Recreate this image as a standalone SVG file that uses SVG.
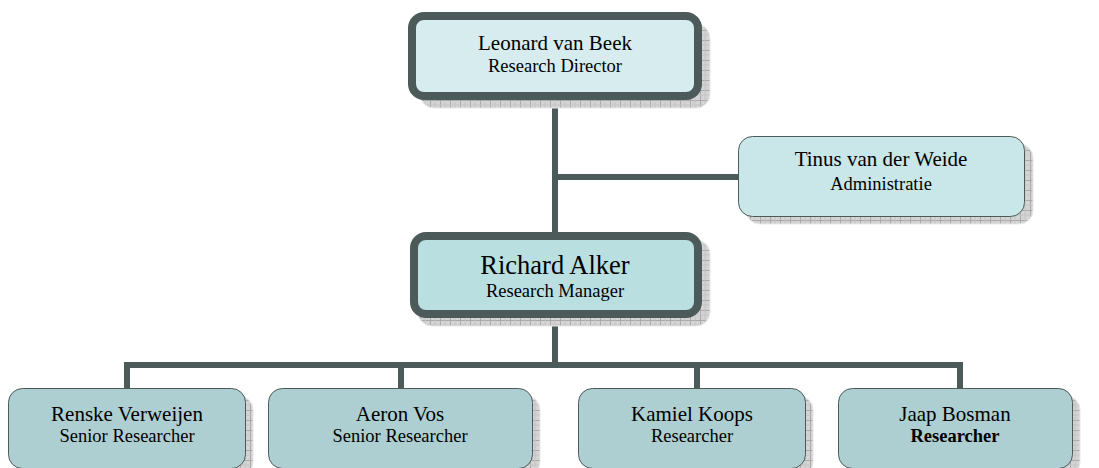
<svg xmlns="http://www.w3.org/2000/svg" width="1099" height="468" viewBox="0 0 1099 468">
<defs>
<pattern id="grid" width="10" height="10" patternUnits="userSpaceOnUse">
<rect width="10" height="10" fill="#d4d4d4"/>
<path d="M0 0.5H10M0.5 0V10" stroke="#a9a9a9" stroke-width="1"/>
<path d="M0 5H10M5 0V10" stroke="#c4c4c4" stroke-width="1"/>
</pattern>
<style>
.sh{fill:url(#grid);stroke:#e8e8e8;stroke-width:1}
.thick{stroke:#4d5a5a;stroke-width:8}
.thin{stroke:#4d5a5a;stroke-width:1}
.con{stroke:#4d5a5a;stroke-width:6;fill:none}
text{font-family:"Liberation Serif","Times New Roman",serif;fill:#000;text-anchor:middle}
.n{font-size:21px}
.t{font-size:18.5px}
.big{font-size:26.5px}
</style>
</defs>
<g id="connectors">
<path class="con" d="M555 100V232"/>
<path class="con" d="M555 177H738"/>
<path class="con" d="M555 318V365"/>
<path class="con" d="M127 388V365H960V388"/>
<path class="con" d="M401 365V388"/>
<path class="con" d="M697 365V388"/>
</g>
<g id="director">
<rect class="sh" x="420" y="24" width="290" height="84" rx="14"/>
<rect class="thick" x="412" y="16" width="286" height="80" rx="12" fill="#d7ecef"/>
<text class="n" x="555" y="50">Leonard van Beek</text>
<text class="t" x="555" y="72">Research Director</text>
</g>
<g id="admin">
<rect class="sh" x="746" y="144" width="287" height="80" rx="14"/>
<rect class="thin" x="738.5" y="136.5" width="286" height="80" rx="14" fill="#c9e6e8"/>
<text class="n" x="881" y="166">Tinus van der Weide</text>
<text class="t" x="881" y="190">Administratie</text>
</g>
<g id="manager">
<rect class="sh" x="418" y="240" width="292" height="86" rx="14"/>
<rect class="thick" x="414" y="236" width="284" height="78" rx="12" fill="#b9dfe1"/>
<text class="big" x="555" y="274">Richard Alker</text>
<text class="t" x="555" y="297">Research Manager</text>
</g>
<g id="renske">
<rect class="sh" x="16" y="396" width="237" height="80" rx="14"/>
<rect class="thin" x="8.5" y="388.5" width="237" height="80" rx="14" fill="#aecfd1"/>
<text class="n" x="127" y="421">Renske Verweijen</text>
<text class="t" x="127" y="442">Senior Researcher</text>
</g>
<g id="aeron">
<rect class="sh" x="276" y="396" width="264" height="80" rx="14"/>
<rect class="thin" x="268.5" y="388.5" width="264" height="80" rx="14" fill="#aecfd1"/>
<text class="n" x="400" y="421">Aeron Vos</text>
<text class="t" x="400" y="442">Senior Researcher</text>
</g>
<g id="kamiel">
<rect class="sh" x="586" y="396" width="227" height="80" rx="14"/>
<rect class="thin" x="578.5" y="388.5" width="227" height="80" rx="14" fill="#aecfd1"/>
<text class="n" x="692" y="421">Kamiel Koops</text>
<text class="t" x="692" y="442">Researcher</text>
</g>
<g id="jaap">
<rect class="sh" x="846" y="396" width="234" height="80" rx="14"/>
<rect class="thin" x="838.5" y="388.5" width="234" height="80" rx="14" fill="#aecfd1"/>
<text class="n" x="955" y="421">Jaap Bosman</text>
<text class="t" x="955" y="442" font-weight="bold">Researcher</text>
</g>
</svg>
